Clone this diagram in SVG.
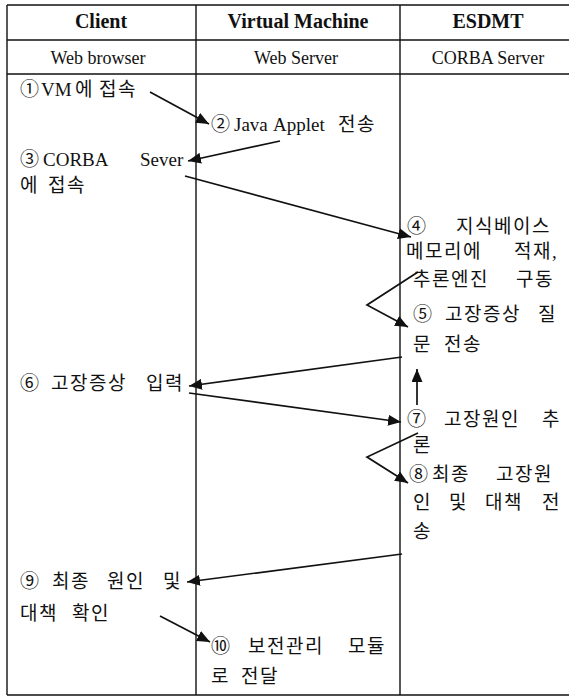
<svg xmlns="http://www.w3.org/2000/svg" width="569" height="697" viewBox="0 0 569 697">
  <defs>
    <marker id="arrow" markerUnits="userSpaceOnUse" markerWidth="15" markerHeight="11" refX="13" refY="5.5" orient="auto">
      <path d="M0,0 L13,5.5 L0,11 Z" fill="#111"/>
    </marker>
    <style>
      .grid { stroke: #111; stroke-width: 1.4; fill: none; }
      .head { font-family: "Liberation Serif", "Times New Roman", serif; font-weight: bold; font-size: 20px; fill: #111; text-anchor: middle; }
      .sub { font-family: "Liberation Serif", "Times New Roman", serif; font-size: 18px; fill: #111; text-anchor: middle; }
      .body { font-family: "Liberation Serif", "Noto Sans CJK KR", serif; font-size: 19px; fill: #111; }
      .ko { letter-spacing: 1.5px; }
      .link { stroke: #111; stroke-width: 1.7; fill: none; marker-end: url(#arrow); }
    </style>
  </defs>
  <rect width="569" height="697" fill="#fff"/>

  <!-- table frame: open on the right side -->
  <g id="table" class="grid">
    <line x1="7" y1="5" x2="569" y2="5"/>
    <line x1="7" y1="40" x2="569" y2="40"/>
    <line x1="7" y1="74" x2="569" y2="74"/>
    <line x1="7" y1="695" x2="569" y2="695"/>
    <line x1="7" y1="5" x2="7" y2="695"/>
    <line x1="196" y1="5" x2="196" y2="695"/>
    <line x1="400" y1="5" x2="400" y2="695"/>
  </g>

  <!-- column headers -->
  <g id="headers">
    <text class="head" x="101" y="28">Client</text>
    <text class="head" x="298" y="28">Virtual Machine</text>
    <text class="head" x="488" y="28">ESDMT</text>
    <text class="sub" x="98" y="64">Web browser</text>
    <text class="sub" x="296" y="64">Web Server</text>
    <text class="sub" x="488" y="64">CORBA Server</text>
  </g>

  <!-- client side steps -->
  <g id="step1" class="body">
    <text y="96"><tspan x="20">①</tspan><tspan x="41">VM</tspan><tspan x="75" class="ko">에</tspan><tspan x="99" class="ko">접속</tspan></text>
  </g>
  <g id="step3" class="body">
    <text y="166"><tspan x="20">③</tspan><tspan x="43">CORBA</tspan><tspan x="140">Sever</tspan></text>
    <text y="192" class="ko"><tspan x="20">에</tspan><tspan x="48">접속</tspan></text>
  </g>
  <g id="step6" class="body">
    <text y="390" class="ko"><tspan x="20">⑥</tspan><tspan x="51">고장증상</tspan><tspan x="146">입력</tspan></text>
  </g>
  <g id="step9" class="body">
    <text y="588" class="ko"><tspan x="20">⑨</tspan><tspan x="52">최종</tspan><tspan x="107">원인</tspan><tspan x="163">및</tspan></text>
    <text y="620" class="ko"><tspan x="20">대책</tspan><tspan x="72">확인</tspan></text>
  </g>

  <!-- web server steps -->
  <g id="step2" class="body">
    <text y="131"><tspan x="211">②</tspan><tspan x="234">Java</tspan><tspan x="273">Applet</tspan><tspan x="338" class="ko">전송</tspan></text>
  </g>
  <g id="step10" class="body">
    <text y="653" class="ko"><tspan x="211">⑩</tspan><tspan x="248">보전관리</tspan><tspan x="348">모듈</tspan></text>
    <text y="683" class="ko"><tspan x="211">로</tspan><tspan x="241">전달</tspan></text>
  </g>

  <!-- CORBA server steps -->
  <g id="step4" class="body">
    <text y="233" class="ko"><tspan x="407">④</tspan><tspan x="456">지식베이스</tspan></text>
    <text y="258" class="ko"><tspan x="406">메모리에</tspan><tspan x="514">적재,</tspan></text>
    <text y="286" class="ko"><tspan x="413">추론엔진</tspan><tspan x="516">구동</tspan></text>
  </g>
  <g id="step5" class="body">
    <text y="321" class="ko"><tspan x="413">⑤</tspan><tspan x="445">고장증상</tspan><tspan x="538">질</tspan></text>
    <text y="351" class="ko"><tspan x="413">문</tspan><tspan x="444">전송</tspan></text>
  </g>
  <g id="step7" class="body">
    <text y="426" class="ko"><tspan x="407">⑦</tspan><tspan x="444">고장원인</tspan><tspan x="542">추</tspan></text>
    <text y="452" class="ko" x="413">론</text>
  </g>
  <g id="step8" class="body">
    <text y="481" class="ko"><tspan x="409">⑧</tspan><tspan x="432">최종</tspan><tspan x="496">고장원</tspan></text>
    <text y="509" class="ko"><tspan x="413">인</tspan><tspan x="449">및</tspan><tspan x="485">대책</tspan><tspan x="542">전</tspan></text>
    <text y="538" class="ko" x="413">송</text>
  </g>

  <!-- message arrows -->
  <g id="connectors">
    <line class="link" x1="150" y1="92" x2="209" y2="124"/>
    <line class="link" x1="280" y1="141" x2="188" y2="161"/>
    <line class="link" x1="185" y1="176" x2="411" y2="237"/>
    <polyline class="link" points="418,272 367,305 408,327"/>
    <line class="link" x1="402" y1="357" x2="189" y2="386"/>
    <line class="link" x1="189" y1="393" x2="401" y2="422"/>
    <line class="link" x1="417" y1="405" x2="417" y2="369"/>
    <polyline class="link" points="418,433 367,457 408,483"/>
    <line class="link" x1="402" y1="554" x2="187" y2="582"/>
    <line class="link" x1="160" y1="616" x2="210" y2="642"/>
  </g>
</svg>
